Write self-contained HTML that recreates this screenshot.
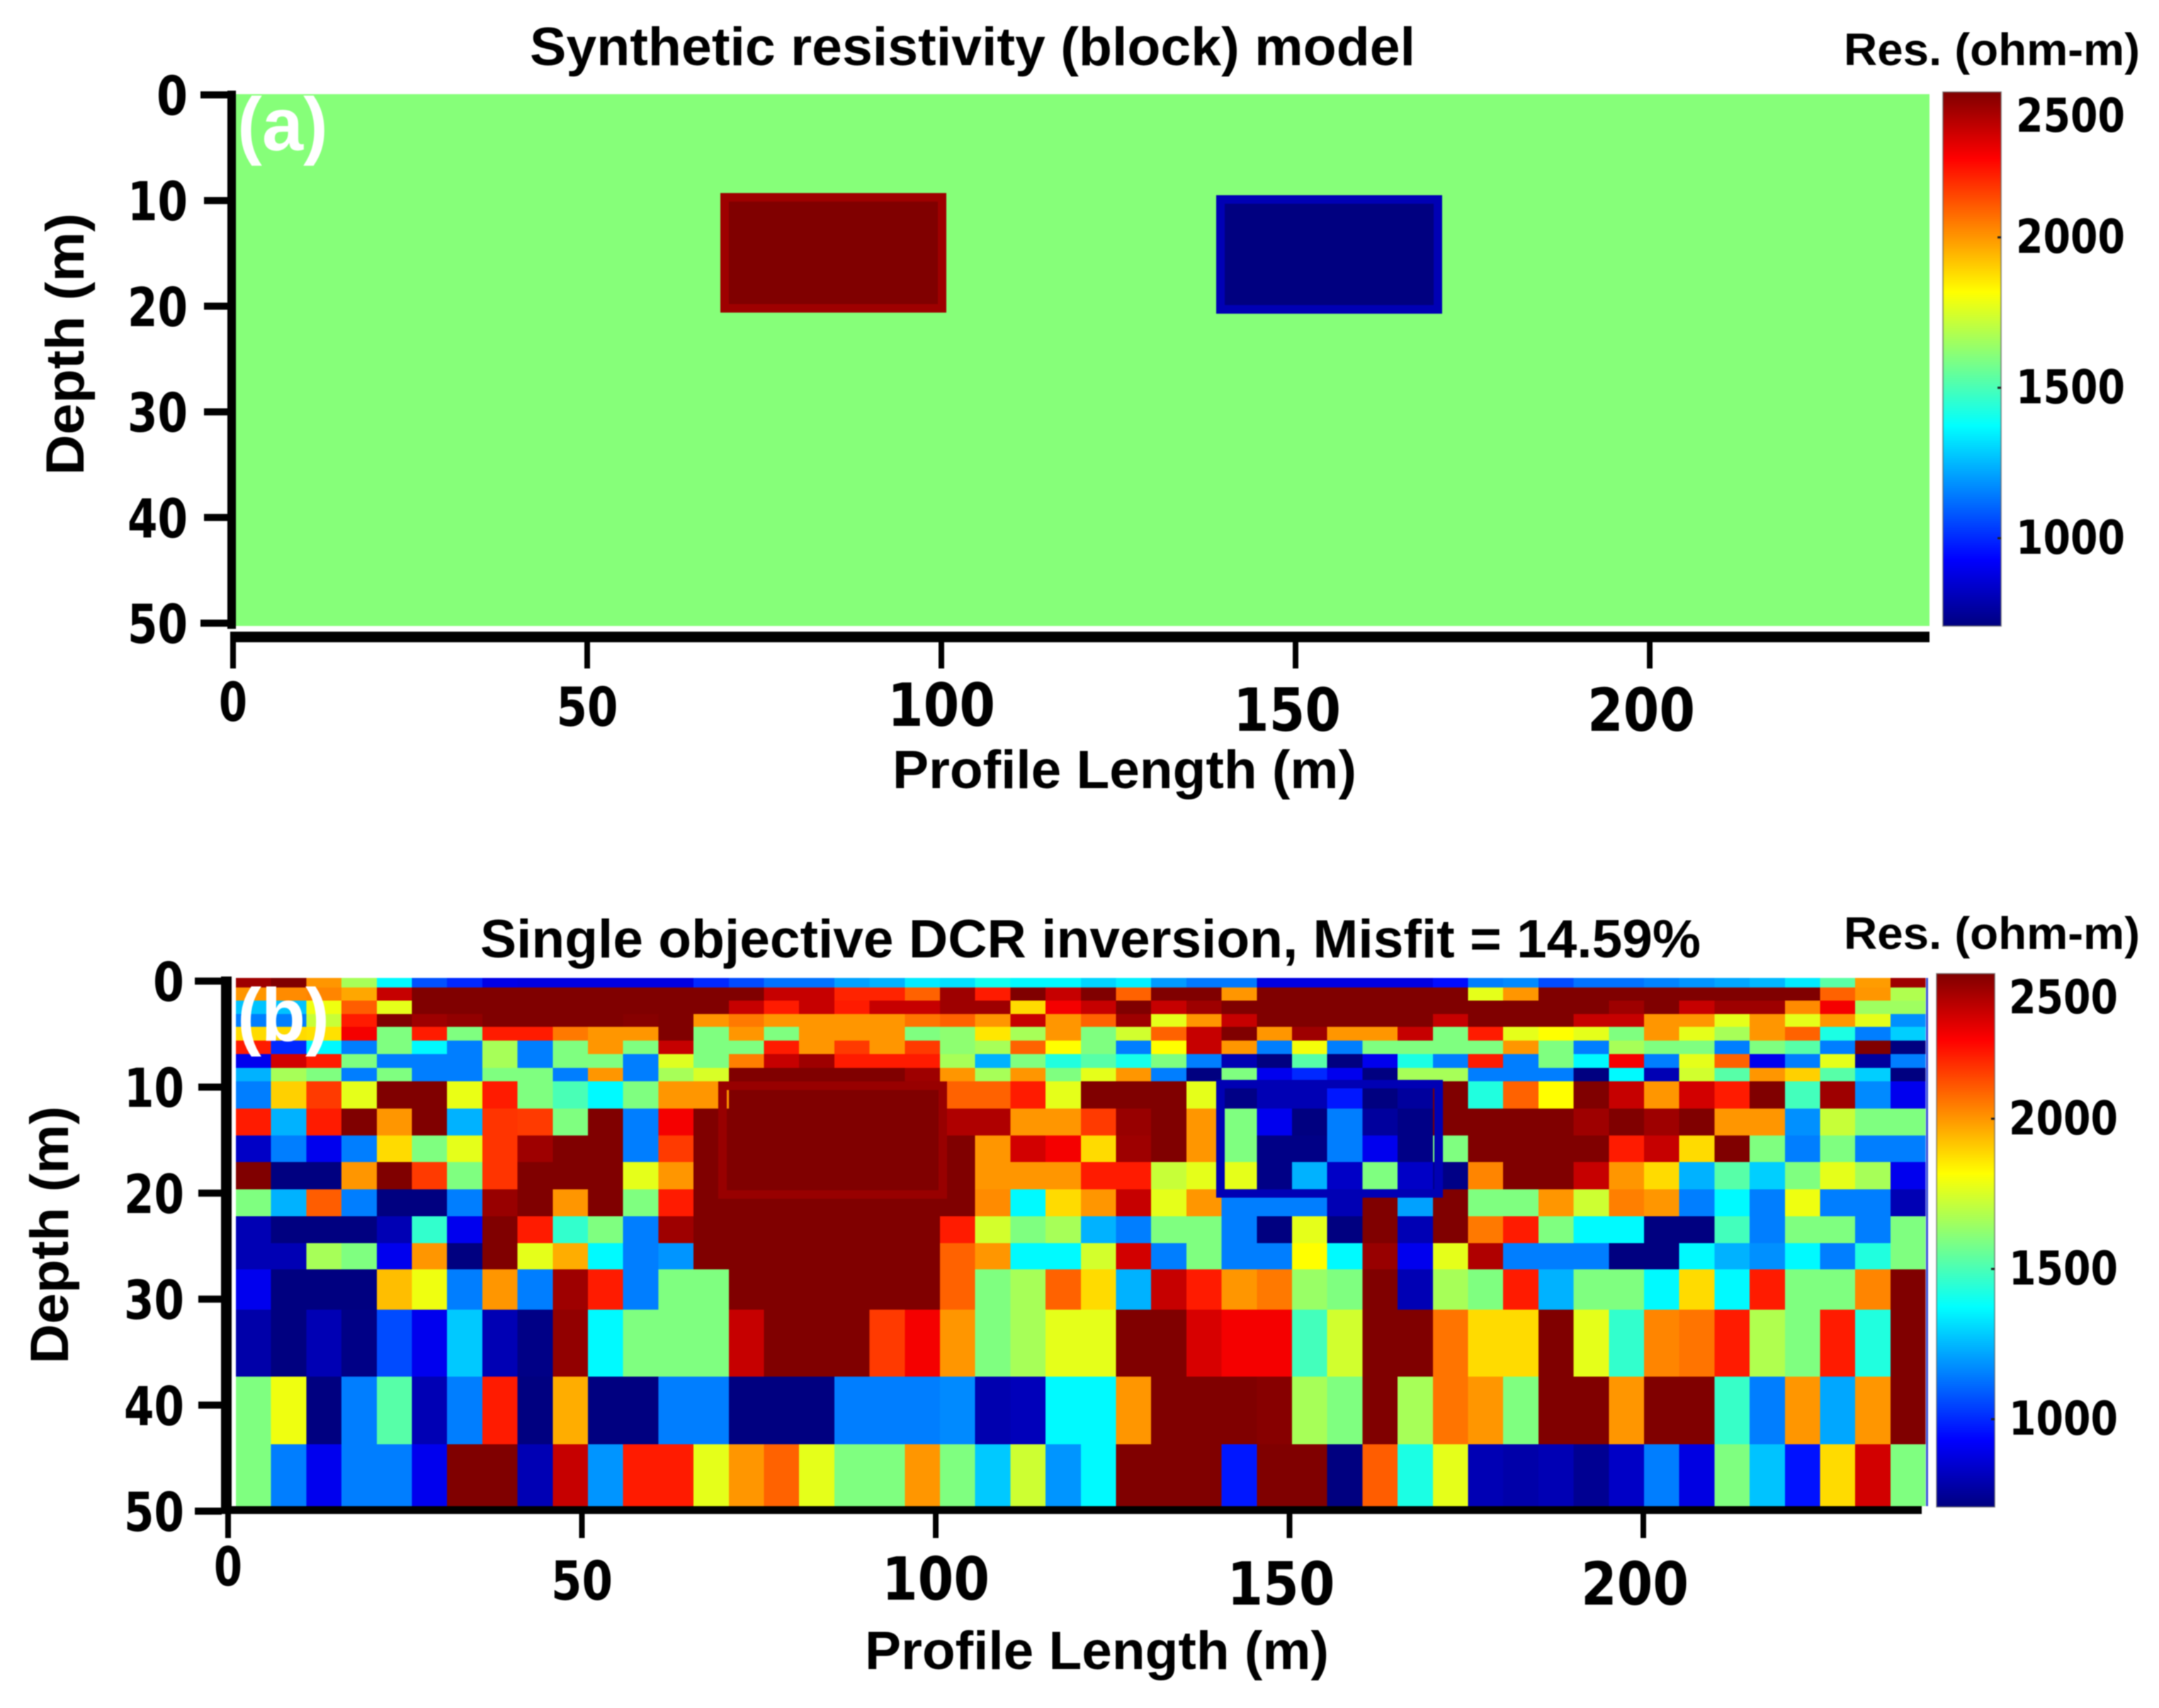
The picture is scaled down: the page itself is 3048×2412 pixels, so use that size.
<!DOCTYPE html>
<html lang="en">
<head>
<meta charset="utf-8">
<title>Synthetic resistivity model and DCR inversion</title>
<style>
html,body{margin:0;padding:0;background:#fff;}
svg{display:block;filter:blur(0.7px);}
text{font-family:"Liberation Sans",sans-serif;font-weight:bold;fill:#000;}
.tick{font-family:"DejaVu Sans","Liberation Sans",sans-serif;}
</style>
</head>
<body>
<svg id="fig" xmlns="http://www.w3.org/2000/svg" width="3048" height="2412" viewBox="0 0 3048 2412">
  <defs>
    <linearGradient id="jetGrad" x1="0" y1="1" x2="0" y2="0"></linearGradient>
  </defs>
  <rect x="0" y="0" width="3048" height="2412" fill="#fff"></rect>
  <g id="panelA"></g>
  <g id="panelB"></g>

  <text x="748" y="92" font-size="76" textLength="1250" lengthAdjust="spacingAndGlyphs">Synthetic resistivity (block) model</text>
  <text x="1260" y="1113" font-size="76" textLength="655" lengthAdjust="spacingAndGlyphs">Profile Length (m)</text>
  <text transform="translate(118 486) rotate(-90)" text-anchor="middle" font-size="76" textLength="370" lengthAdjust="spacingAndGlyphs">Depth (m)</text>
  <text x="2603" y="92" font-size="64" textLength="418" lengthAdjust="spacingAndGlyphs">Res. (ohm-m)</text>
  <text x="335" y="212" font-size="106" textLength="128" lengthAdjust="spacingAndGlyphs" style="fill:#fff">(a)</text>

  <text x="678" y="1352" font-size="76" textLength="1723" lengthAdjust="spacingAndGlyphs">Single objective DCR inversion, Misfit = 14.59%</text>
  <text x="1221" y="2357" font-size="76" textLength="655" lengthAdjust="spacingAndGlyphs">Profile Length (m)</text>
  <text transform="translate(96 1744) rotate(-90)" text-anchor="middle" font-size="76" textLength="364" lengthAdjust="spacingAndGlyphs">Depth (m)</text>
  <text x="2603" y="1340" font-size="64" textLength="418" lengthAdjust="spacingAndGlyphs">Res. (ohm-m)</text>
  <text x="335" y="1470" font-size="106" textLength="130" lengthAdjust="spacingAndGlyphs" style="fill:#fff">(b)</text>
</svg>

<script>
// ---- chart data -------------------------------------------------------
const depthTicks = [0, 10, 20, 30, 40, 50];
const profileTicks = [0, 50, 100, 150, 200];
const colorbarTicks = [2000, 1500, 1000];
const colorbarLabels = [2500, 2000, 1500, 1000];
const resMin = 708;
const resMax = 2483;

// panel (a): synthetic block model, metres and ohm-m
const backgroundRes = 1606;
const blockStartX = [69, 139];
const blockEndX = [100.9, 170.9];
const blockTopDepth = [9.3, 9.5];
const blockBottomDepth = [20.6, 20.7];
const blockRes = [2483, 708];
const blockEdgeRes = [2430, 800];

// panel (b): inversion result, column width in metres, layer edges in metres
const cellWidthM = 5;
const layerEdges = [0, 0.91, 2.14, 3.42, 4.64, 5.93, 7.2, 8.5, 9.78, 12.35, 14.91, 17.44, 20.0, 22.55, 25.09, 27.58, 31.4, 37.75, 44.14, 50];
const res00 = [2430,2483,2000,1665,1365,1070,1000,890,880,880,880,880,880,1000,1060,1130,1130,1210,1240,1340,1320,1400,1365,1365,1300,1350,1200,1140,1140,880,880,880,880,880,950,1150,1170,1060,1130,1130,1160,1190,1220,1250,1340,1530,1990,2430];
const res01 = [2000,2020,2030,1970,2360,2483,2483,2483,2483,2483,2483,2483,2483,2483,2483,2360,2360,2200,2200,2090,2430,2215,2483,2360,2483,2090,2483,2483,2000,2483,2483,2483,2483,2483,2483,1773,2000,2483,2483,2483,2483,2483,2483,2483,2483,2090,2000,1680];
const res02 = [1270,1270,1790,2100,1773,2483,2483,2483,2483,2483,2483,2483,2483,2483,2360,2215,2360,2215,2360,2360,2430,2430,1880,2278,2360,2483,2360,2430,2483,2483,2483,2483,2483,2483,2483,2483,2483,2483,2483,2430,2483,2360,2430,2430,2020,2278,1650,1650];
const res03 = [1150,1150,1720,2215,2483,2430,2450,2483,2483,2483,2483,2470,2483,2000,2050,2000,2000,2000,2000,2060,2090,2000,2360,2000,2090,2430,1773,2000,2360,2483,2483,2483,2483,2483,2360,2483,2483,2483,2360,2360,2000,2000,1773,2000,1773,2000,1773,1180];
const res04 = [1880,1880,1870,2278,1595,2215,1595,2215,2215,2050,2000,2000,2483,1595,2000,1595,2000,2000,2000,1595,1620,1860,1665,2000,1595,1738,2090,2360,2483,2000,2430,2000,2000,2360,1595,2215,1773,1817,1773,1595,2000,1773,1665,2000,2090,1420,1150,1290];
const res05 = [2215,1000,1365,1150,1595,1365,1150,1665,1150,1595,2000,1595,2360,1595,1595,2215,2000,2160,2000,2160,1620,1665,2090,1817,1595,1150,1817,2360,2000,1150,1800,1150,1595,1595,1595,1595,2000,1595,1150,1665,1595,1595,1150,1595,1525,1150,2483,708];
const res06 = [900,2340,2215,1595,1150,1150,1150,1665,1150,1595,1595,1150,1760,1595,2040,2360,2430,2215,2215,2215,1665,1240,1595,1430,1525,1410,1595,1150,800,708,1525,708,900,1420,1150,2215,1150,1595,1365,2278,1150,1773,2090,900,1150,1773,760,1150];
const res07 = [1240,1665,1595,1150,1595,1150,1150,1595,1595,1150,2000,1150,1665,1750,2483,2483,2483,2483,2483,2430,2000,1665,2000,1595,1773,2000,1150,708,1595,900,1000,900,708,1665,1665,1150,1150,1150,708,1365,800,1738,1525,2000,1900,1525,1290,708];
const res08 = [1150,1900,2160,1773,2483,2483,1780,2215,1595,1500,1365,1595,2000,2000,2483,2483,2483,2483,2483,2483,2090,2090,2215,1773,2483,2483,2483,1773,720,800,800,970,708,760,2483,1430,2090,1817,2483,2360,2000,2340,2215,2483,1490,2430,1170,900];
const res09 = [2215,1240,2215,2483,2000,2483,1240,2170,2160,1595,2483,1150,2278,2483,2483,2483,2483,2483,2483,2483,2400,2400,2000,2000,2160,2440,2483,2000,1595,900,708,1150,760,720,2483,2483,2483,2483,2430,2483,2430,2483,2000,2000,1180,1720,1595,1595];
const res10 = [830,1150,900,1150,1880,1595,1773,2170,2430,2483,2483,1150,2160,2483,2483,2483,2483,2483,2483,2483,2483,2000,2340,2278,1880,2430,2483,2000,1595,720,720,1150,900,720,1595,2483,2483,2483,2483,2215,2360,1880,2483,1595,1150,1595,1150,1150];
const res11 = [2483,708,708,2000,2483,2160,1595,2170,2483,2483,2483,1773,2000,2483,2483,2483,2483,2483,2483,2483,2483,2000,2000,2000,2215,2215,1720,1773,1773,720,1240,830,1595,830,720,2030,2483,2483,2360,2000,1880,1240,1525,1290,1595,1773,1665,900];
const res12 = [1595,1240,2100,1150,708,708,1150,2440,2483,2000,2483,1595,2215,2483,2483,2483,2483,2483,2483,2483,2483,2020,1365,1880,2000,2360,1773,2000,1150,1150,1150,800,2483,1210,2483,1595,1595,2000,1730,2040,2000,1150,1365,1150,1790,1150,1150,800];
const res13 = [800,708,708,708,800,1460,900,2483,2215,1460,1595,1150,2430,2483,2483,2483,2483,2483,2483,2483,2215,1740,1595,1665,1240,1150,1595,1595,1150,708,1773,708,2483,800,2483,2050,2215,1595,1365,1365,708,708,1490,1150,1595,1595,1150,1595];
const res14 = [800,800,1665,1595,900,2000,708,2483,1773,1960,1365,1150,1190,2483,2483,2483,2483,2483,2483,2483,2090,2000,1365,1365,1740,2340,1150,1595,1150,1150,1817,1365,2440,900,1773,2400,1150,1150,1150,708,708,1365,1240,1180,1365,1150,1430,1595];
const res15 = [900,708,708,708,1930,1790,1150,2000,1150,2430,2215,1150,1595,1595,2483,2483,2483,2483,2483,2483,2090,1595,1665,2090,1880,1240,2360,2215,2000,2050,1640,1595,2483,800,1665,1595,2215,1240,1595,1595,1365,1880,1365,2215,1595,1595,2030,2483];
const res16 = [780,708,800,720,1060,900,1280,800,720,2450,1365,1595,1595,1595,2360,2483,2483,2483,2160,2278,2000,1595,1665,1773,1773,2483,2483,2330,2278,2278,1490,1738,2483,2483,2060,1880,1880,2483,1773,1460,2030,2060,2215,1680,1595,2215,1430,2483];
const res17 = [1595,1790,708,1150,1525,800,1150,2215,708,1960,708,708,1150,1150,708,708,708,1150,1150,1150,1170,790,810,1365,1365,2000,2483,2483,2483,2470,1665,1595,2483,1665,2060,2000,1595,2483,2483,2000,2483,2483,1470,1150,2000,1220,2000,2483];
const res18 = [1595,1150,900,1150,1150,900,2483,2483,800,2360,1190,2215,2215,1773,2000,2090,1773,1595,1595,2000,1595,1280,1730,1190,1365,2483,2483,2483,970,2483,2483,708,2100,1420,1773,800,780,800,740,830,1150,880,1595,1270,960,1880,2340,1595];
const inversionRows = [res00,res01,res02,res03,res04,res05,res06,res07,res08,res09,res10,res11,res12,res13,res14,res15,res16,res17,res18];

// target outlines overlaid on the inversion
const targetStartX = [68.7, 139];
const targetEndX = [101, 171];
const targetTopDepth = [9.8, 9.65];
const targetBottomDepth = [20.9, 20.8];
const targetEdgeRes = [2440, 800];

// ---- helpers ----------------------------------------------------------
const SVGNS = 'http://www.w3.org/2000/svg';
function clamp01(v){ return Math.max(0, Math.min(1, v)); }
function jet(value){
  const t = clamp01((value - resMin) / (resMax - resMin));
  const r = clamp01(Math.min(4*t - 1.5, -4*t + 4.5));
  const g = clamp01(Math.min(4*t - 0.5, -4*t + 3.5));
  const b = clamp01(Math.min(4*t + 0.5, -4*t + 2.5));
  return 'rgb(' + Math.round(r*255) + ',' + Math.round(g*255) + ',' + Math.round(b*255) + ')';
}
function rectEl(parent, name, x0, y0, x1, y1, fill, crisp){
  const el = document.createElementNS(SVGNS, 'rect');
  
  
  el.setAttribute('x', x0);
  el.setAttribute('y', y0);
  el.setAttribute('width', x1 - x0);
  el.setAttribute('height', y1 - y0);
  el.setAttribute('fill', fill);
  if (crisp) el.setAttribute('shape-rendering', 'crispEdges');
  parent.appendChild(el);
  return el;
}
function outlineEl(parent, name, x0, y0, x1, y1, stroke, w){
  const el = document.createElementNS(SVGNS, 'rect');
  
  
  el.setAttribute('x', x0 + w/2);
  el.setAttribute('y', y0 + w/2);
  el.setAttribute('width', x1 - x0 - w);
  el.setAttribute('height', y1 - y0 - w);
  el.setAttribute('fill', 'none');
  el.setAttribute('stroke', stroke);
  el.setAttribute('stroke-width', w);
  parent.appendChild(el);
  return el;
}
function tickText(parent, name, str, x, y, size, len, anchor){
  const el = document.createElementNS(SVGNS, 'text');
  
  
  el.setAttribute('class', 'tick');
  el.setAttribute('x', x);
  el.setAttribute('y', y);
  el.setAttribute('font-size', size);
  el.setAttribute('text-anchor', anchor);
  el.setAttribute('textLength', len);
  el.setAttribute('lengthAdjust', 'spacingAndGlyphs');
  el.textContent = String(str);
  parent.appendChild(el);
  return el;
}

// gradient built from the jet colour function
const grad = document.getElementById('jetGrad');
for (let i = 0; i <= 32; i++) {
  const stop = document.createElementNS(SVGNS, 'stop');
  
  
  stop.setAttribute('offset', i / 32);
  stop.setAttribute('stop-color', jet(resMin + (resMax - resMin) * i / 32));
  grad.appendChild(stop);
}

function drawColorbar(parent, left, right, top, bottom, labelX){
  const cbY = v => bottom - (v - resMin) / (resMax - resMin) * (bottom - top);
  const bar = rectEl(parent, 'colorbar', left, top, right, bottom, 'url(#jetGrad)', false);
  bar.setAttribute('stroke', '#555');
  bar.setAttribute('stroke-opacity', '0.55');
  bar.setAttribute('stroke-width', '2');
  colorbarTicks.forEach(v => {
    rectEl(parent, 'colorbar-tick', right - 5, cbY(v) - 1.5, right, cbY(v) + 1.5, '#222', false);
  });
  colorbarLabels.forEach(v => {
    const y = Math.max(cbY(v) + 22, top + 56);
    tickText(parent, 'colorbar-label', v, labelX, y, 66, 154, 'start');
  });
}

function drawAxes(parent, cfg){
  // y axis
  rectEl(parent, 'y-axis-line', cfg.yLineX0, cfg.yLineTop, cfg.yLineX1, cfg.yLineBottom, '#000', false);
  depthTicks.forEach(d => {
    const y = cfg.axisY(d);
    const far = (d === 0 || d === 50) ? cfg.yTickFar : cfg.yTickFar + 5;
    rectEl(parent, 'y-tick', far, y - 5, cfg.yLineX0 + 1, y + 5, '#000', false);
    const s = String(d);
    tickText(parent, 'y-tick-label', s, cfg.yLabelRight, y + 28, 76, s.length === 1 ? 44 : 85, 'end');
  });
  // x axis
  rectEl(parent, 'x-axis-line', cfg.xLineX0, cfg.xLineTop, cfg.xLineX1, cfg.xLineBottom, '#000', false);
  profileTicks.forEach(p => {
    const x = cfg.axisX(p);
    rectEl(parent, 'x-tick', x - 4, cfg.xLineBottom - 1, x + 4, cfg.xTickEnd, '#000', false);
    const s = String(p);
    const big = s.length > 2;
    const drop = p === 0 ? cfg.zeroLift : (p >= 150 ? 7 : 0);
    const nudge = p >= 150 ? -12 : 0;
    tickText(parent, 'x-tick-label', s, x + nudge, cfg.xLabelBase + drop, big ? 84 : 76, big ? 152 : (s.length === 1 ? 40 : 87), 'middle');
  });
}

// ---- panel (a) --------------------------------------------------------
const pa = document.getElementById('panelA');
const aX = m => 327 + 10 * m;
const aY = d => 134 + 14.92 * d;
rectEl(pa, 'background-resistivity', 333, 133, 2724, 884, jet(backgroundRes), false);
blockRes.forEach((v, i) => {
  const x0 = aX(blockStartX[i]), x1 = aX(blockEndX[i]);
  const y0 = aY(blockTopDepth[i]), y1 = aY(blockBottomDepth[i]);
  rectEl(pa, 'resistivity-block', x0, y0, x1, y1, jet(v), false);
  outlineEl(pa, 'resistivity-block-edge', x0, y0, x1, y1, jet(blockEdgeRes[i]), 12);
});
drawAxes(pa, {
  axisX: m => 329 + 10 * m, axisY: aY,
  yLineX0: 321, yLineX1: 333, yLineTop: 128, yLineBottom: 888,
  yTickFar: 283, yLabelRight: 265,
  xLineX0: 325, xLineX1: 2724, xLineTop: 892, xLineBottom: 907, xTickEnd: 944,
  xLabelBase: 1025, zeroLift: -7
});
drawColorbar(pa, 2743, 2825, 130, 884, 2846);

// ---- panel (b) --------------------------------------------------------
const pb = document.getElementById('panelB');
const heatX = m => 333 + 9.94 * m;
const heatY = d => 1381 + 14.92 * d;
inversionRows.forEach((row, r) => {
  row.forEach((v, c) => {
    rectEl(pb, 'heatmap-cell', heatX(c * cellWidthM), heatY(layerEdges[r]), heatX((c + 1) * cellWidthM), heatY(layerEdges[r + 1]), jet(v), true);
  });
});
rectEl(pb, 'heatmap-right-edge', 2719, 1381, 2722, 2127, '#3a50d8', false);
targetEdgeRes.forEach((v, i) => {
  outlineEl(pb, 'target-outline', aX(targetStartX[i]), heatY(targetTopDepth[i]), aX(targetEndX[i]), heatY(targetBottomDepth[i]), jet(v), 12);
});
drawAxes(pb, {
  axisX: m => 322 + 9.99 * m, axisY: d => 1385.5 + 14.97 * d,
  yLineX0: 312, yLineX1: 327, yLineTop: 1379, yLineBottom: 2138,
  yTickFar: 275, yLabelRight: 260,
  xLineX0: 312, xLineX1: 2713, xLineTop: 2127, xLineBottom: 2138, xTickEnd: 2172,
  xLabelBase: 2259, zeroLift: -20
});
drawColorbar(pb, 2734, 2816, 1375, 2128, 2836);
</script>
</body>
</html>
